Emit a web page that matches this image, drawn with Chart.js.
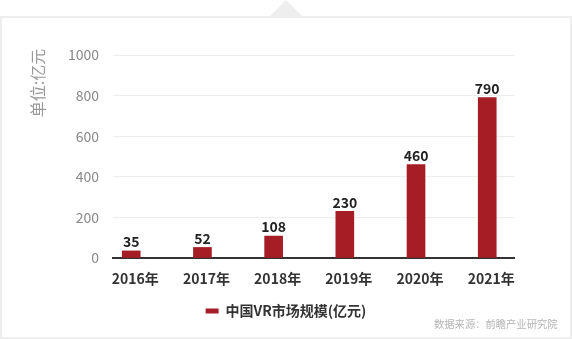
<!DOCTYPE html>
<html>
<head>
<meta charset="utf-8">
<script src="https://cdn.jsdelivr.net/npm/chart.js@4.4.0/dist/chart.umd.min.js"></script>
<style>
  body { margin: 0; background: #fff; font-family: "Noto Sans CJK SC", sans-serif; }
  #wrap { position: relative; width: 572px; height: 339px; overflow: hidden; }
  #frame { position: absolute; left: 0; top: 16px; width: 568px; height: 319px; border: 2px solid #eeeeee; }
  #tri { position: absolute; left: 269px; top: 0; width: 0; height: 0;
         border-left: 17px solid transparent; border-right: 17px solid transparent; border-bottom: 17px solid #eeeeee; }
  #chart { position: absolute; left: 0; top: 0; }
  #source { position: absolute; left: 434px; top: 316px; font-size: 10.3px; color: #b4b4b4; white-space: nowrap; }
</style>
</head>
<body>
<div id="wrap">
  <div id="frame"></div>
  <div id="tri"></div>
  <canvas id="chart" width="572" height="339"></canvas>
  <div id="source">数据来源：前瞻产业研究院</div>
</div>
<script>
const years = ['2016年', '2017年', '2018年', '2019年', '2020年', '2021年'];
const marketSize = [35, 52, 108, 230, 460, 790];
const seriesName = '中国VR市场规模(亿元)';
const yTitle = '单位:亿元';

const FONT = '"Noto Sans CJK SC", "Noto Sans", sans-serif';

// value labels above bars
const valueLabels = {
  id: 'valueLabels',
  afterDatasetsDraw(chart) {
    const ctx = chart.ctx;
    const meta = chart.getDatasetMeta(0);
    ctx.save();
    ctx.font = 'bold 14px ' + FONT;
    ctx.fillStyle = '#222';
    ctx.textAlign = 'center';
    ctx.textBaseline = 'bottom';
    meta.data.forEach((bar, i) => {
      ctx.fillText(marketSize[i], bar.x, bar.y - 2);
    });
    ctx.restore();
  }
};

// rotated unit text at the top left
const unitTitle = {
  id: 'unitTitle',
  afterDraw(chart) {
    const ctx = chart.ctx;
    ctx.save();
    ctx.translate(38, 83);
    ctx.rotate(-Math.PI / 2);
    ctx.font = '16px ' + FONT;
    ctx.fillStyle = '#999';
    ctx.textAlign = 'center';
    ctx.textBaseline = 'middle';
    ctx.fillText(yTitle, 0, 0);
    ctx.restore();
  }
};

new Chart(document.getElementById('chart'), {
  type: 'bar',
  data: {
    datasets: [{
      label: seriesName,
      data: marketSize.map((v, i) => ({ x: i, y: v })),
      backgroundColor: '#a51e26',
      barThickness: 18
    }]
  },
  options: {
    responsive: false,
    animation: false,
    layout: { padding: { top: 55, right: 0, bottom: 11, left: 0 } },
    scales: {
      x: {
        type: 'linear',
        min: -0.256,
        max: 5.376,
        offset: false,
        grid: { display: false, offset: false, drawTicks: false },
        border: { display: true, color: '#333', width: 2 },
        ticks: {
          stepSize: 1,
          includeBounds: false,
          autoSkip: false,
          maxRotation: 0,
          padding: 12,
          labelOffset: 4,
          color: '#333',
          font: { family: FONT, size: 14, weight: 'bold' },
          callback: (v) => Number.isInteger(v) ? years[v] : ''
        },
        afterFit(scale) { scale.height = 34; }
      },
      y: {
        min: 0,
        max: 1000,
        grid: { color: '#ececec', lineWidth: 1, drawTicks: false },
        border: { display: false },
        ticks: {
          stepSize: 200,
          padding: 14,
          color: '#888',
          font: { family: FONT, size: 14 },
          callback: (v) => String(v)
        },
        afterFit(scale) { scale.width = 113; }
      },
      // empty right axis, only keeps the plot narrower so the legend stays centred on the page
      yRight: {
        position: 'right',
        grid: { display: false },
        border: { display: false },
        ticks: { display: false },
        afterFit(scale) { scale.width = 58; }
      }
    },
    plugins: {
      legend: {
        position: 'bottom',
        labels: {
          boxWidth: 13,
          boxHeight: 5,
          padding: 12,
          color: '#333',
          font: { family: FONT, size: 14, weight: 'bold' }
        }
      },
      tooltip: { enabled: false }
    }
  },
  plugins: [valueLabels, unitTitle]
});
</script>
</body>
</html>
